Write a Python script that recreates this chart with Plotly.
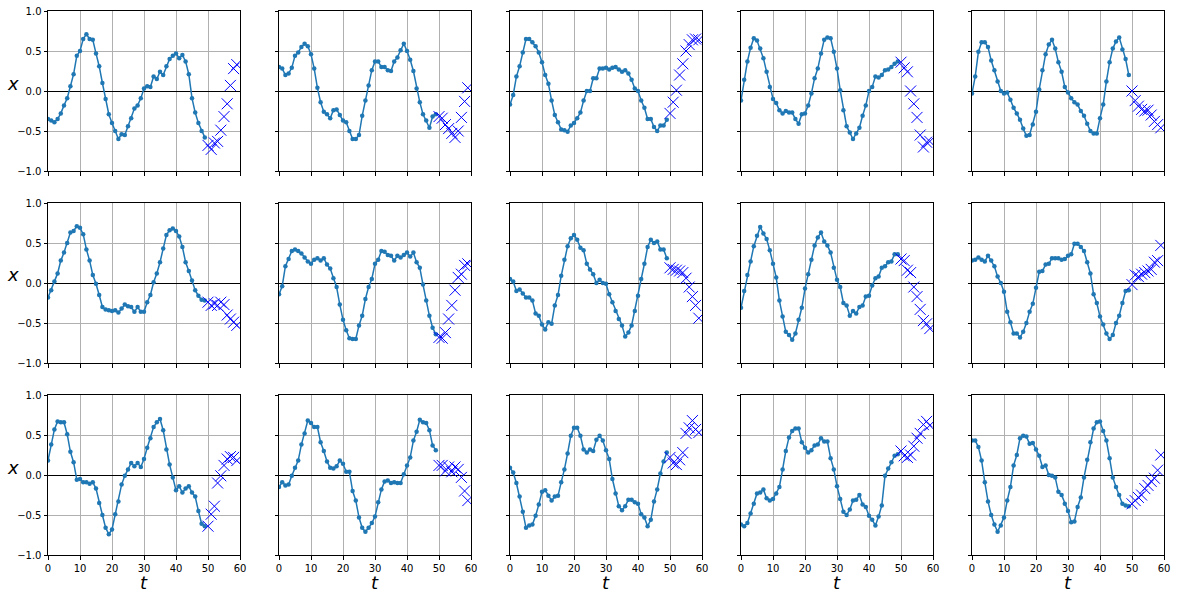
import plotly.graph_objects as go
from plotly.subplots import make_subplots

# time steps
t_obs = list(range(50))
t_pred = list(range(50, 60))

obs_1 = [-0.35,-0.37,-0.39,-0.35,-0.28,-0.18,-0.09,0.06,0.21,0.44,0.50,0.65,0.71,0.65,0.64,0.47,0.31,0.10,-0.10,-0.29,
         -0.40,-0.50,-0.60,-0.54,-0.55,-0.44,-0.34,-0.22,-0.18,-0.09,0.03,0.06,0.05,0.18,0.15,0.24,0.20,0.31,0.40,0.44,
         0.47,0.41,0.45,0.37,0.21,-0.09,-0.27,-0.40,-0.50,-0.58]
pred_1 = [-0.68,-0.73,-0.65,-0.63,-0.49,-0.32,-0.16,0.07,0.28,0.33]

obs_2 = [0.30,0.28,0.20,0.22,0.29,0.44,0.48,0.55,0.59,0.56,0.46,0.28,0.04,-0.14,-0.26,-0.29,-0.34,-0.24,-0.23,-0.30,
         -0.37,-0.39,-0.50,-0.60,-0.60,-0.55,-0.31,-0.12,0.07,0.26,0.37,0.37,0.30,0.30,0.26,0.25,0.37,0.42,0.51,0.59,
         0.50,0.39,0.25,0.03,-0.14,-0.29,-0.37,-0.46,-0.32,-0.29]
pred_2 = [-0.32,-0.34,-0.42,-0.47,-0.53,-0.58,-0.50,-0.33,-0.13,0.04]

obs_3 = [-0.17,-0.05,0.18,0.31,0.48,0.65,0.65,0.61,0.56,0.48,0.36,0.20,0.09,-0.12,-0.30,-0.39,-0.48,-0.49,-0.51,-0.43,
         -0.40,-0.34,-0.27,-0.12,0.00,0.00,0.16,0.16,0.28,0.28,0.29,0.27,0.29,0.30,0.27,0.24,0.26,0.22,0.14,0.03,
         0.00,-0.12,-0.21,-0.35,-0.35,-0.45,-0.50,-0.43,-0.43,-0.36]
pred_3 = [-0.28,-0.14,0.01,0.20,0.34,0.50,0.58,0.64,0.65,0.64]

obs_4 = [-0.12,0.14,0.37,0.54,0.66,0.63,0.53,0.41,0.24,0.05,-0.10,-0.15,-0.24,-0.28,-0.25,-0.27,-0.27,-0.35,-0.41,-0.29,
         -0.28,-0.18,-0.03,0.16,0.28,0.47,0.64,0.67,0.66,0.49,0.28,0.01,-0.24,-0.44,-0.52,-0.60,-0.53,-0.46,-0.31,-0.18,
         0.00,0.05,0.18,0.17,0.20,0.26,0.27,0.30,0.34,0.37]
pred_4 = [0.36,0.29,0.24,0.00,-0.16,-0.33,-0.55,-0.70,-0.64,-0.63]

obs_5 = [-0.03,0.18,0.49,0.61,0.61,0.55,0.38,0.26,0.12,0.00,-0.03,-0.02,-0.11,-0.21,-0.28,-0.36,-0.47,-0.56,-0.55,-0.42,
         -0.26,0.02,0.26,0.46,0.58,0.64,0.53,0.36,0.24,0.05,-0.02,-0.09,-0.14,-0.17,-0.25,-0.31,-0.41,-0.50,-0.53,-0.53,
         -0.34,-0.17,0.12,0.36,0.53,0.62,0.67,0.52,0.40,0.20]
pred_5 = [0.00,-0.12,-0.19,-0.23,-0.25,-0.24,-0.30,-0.38,-0.42,-0.46]

obs_6 = [-0.18,-0.09,0.02,0.12,0.28,0.38,0.50,0.63,0.65,0.71,0.69,0.61,0.42,0.28,0.10,-0.01,-0.15,-0.30,-0.33,-0.34,
         -0.35,-0.34,-0.37,-0.32,-0.27,-0.29,-0.30,-0.36,-0.30,-0.36,-0.36,-0.24,-0.15,0.01,0.12,0.26,0.43,0.60,0.66,0.68,
         0.65,0.58,0.45,0.26,0.15,0.03,-0.09,-0.16,-0.21,-0.22]
pred_6 = [-0.24,-0.28,-0.26,-0.28,-0.24,-0.27,-0.40,-0.45,-0.49,-0.53]

obs_7 = [-0.14,-0.04,0.21,0.30,0.40,0.42,0.40,0.37,0.32,0.27,0.24,0.29,0.31,0.28,0.31,0.23,0.18,0.06,-0.05,-0.27,
         -0.46,-0.59,-0.69,-0.70,-0.70,-0.53,-0.41,-0.20,-0.05,0.05,0.24,0.29,0.40,0.39,0.35,0.34,0.28,0.34,0.32,0.35,
         0.38,0.33,0.38,0.26,0.19,-0.02,-0.22,-0.41,-0.56,-0.64]
pred_7 = [-0.68,-0.69,-0.62,-0.45,-0.28,-0.09,0.07,0.11,0.22,0.24]

obs_8 = [0.05,0.02,-0.10,-0.08,-0.13,-0.18,-0.18,-0.22,-0.38,-0.41,-0.52,-0.58,-0.49,-0.51,-0.28,-0.15,0.09,0.29,0.46,0.56,
         0.60,0.54,0.44,0.41,0.24,0.17,0.11,0.00,0.04,0.00,-0.01,-0.14,-0.24,-0.35,-0.45,-0.53,-0.67,-0.62,-0.53,-0.35,
         -0.16,0.05,0.24,0.45,0.54,0.50,0.52,0.42,0.42,0.31]
pred_8 = [0.19,0.17,0.16,0.15,0.13,0.06,-0.05,-0.17,-0.28,-0.44]

obs_9 = [-0.31,-0.10,0.10,0.27,0.46,0.59,0.70,0.62,0.55,0.41,0.24,0.07,-0.22,-0.42,-0.61,-0.65,-0.71,-0.63,-0.46,-0.31,
         -0.07,0.11,0.29,0.47,0.57,0.63,0.52,0.47,0.38,0.19,0.04,-0.05,-0.25,-0.28,-0.41,-0.35,-0.38,-0.30,-0.28,-0.17,
         -0.16,-0.03,0.06,0.08,0.19,0.21,0.26,0.27,0.36,0.36]
pred_9 = [0.30,0.28,0.16,0.13,-0.05,-0.17,-0.33,-0.47,-0.51,-0.57]

obs_10 = [0.28,0.29,0.32,0.29,0.27,0.34,0.28,0.21,0.08,0.00,-0.11,-0.36,-0.49,-0.63,-0.63,-0.68,-0.61,-0.50,-0.36,-0.26,
          -0.06,0.14,0.15,0.23,0.24,0.31,0.31,0.31,0.29,0.30,0.34,0.36,0.49,0.49,0.45,0.40,0.26,0.12,-0.14,-0.25,
          -0.42,-0.52,-0.63,-0.70,-0.65,-0.50,-0.41,-0.25,-0.10,-0.09]
pred_10 = [-0.02,0.10,0.08,0.11,0.13,0.15,0.17,0.26,0.28,0.47]

obs_11 = [0.18,0.38,0.57,0.67,0.66,0.66,0.51,0.29,0.16,-0.06,-0.05,-0.09,-0.09,-0.11,-0.09,-0.17,-0.35,-0.50,-0.66,-0.74,
          -0.68,-0.49,-0.33,-0.12,-0.01,0.07,0.15,0.11,0.15,0.10,0.20,0.34,0.46,0.60,0.66,0.70,0.56,0.32,0.13,-0.03,
          -0.19,-0.14,-0.22,-0.17,-0.14,-0.22,-0.27,-0.45,-0.61,-0.64]
pred_11 = [-0.64,-0.49,-0.39,-0.10,-0.01,0.12,0.20,0.23,0.22,0.18]

obs_12 = [-0.15,-0.09,-0.13,-0.12,-0.01,0.09,0.18,0.38,0.52,0.68,0.65,0.60,0.60,0.41,0.30,0.17,0.09,0.08,0.11,0.18,
          0.14,0.04,0.04,-0.20,-0.32,-0.53,-0.66,-0.71,-0.66,-0.60,-0.52,-0.34,-0.18,-0.08,-0.07,-0.10,-0.09,-0.10,-0.10,0.01,
          0.12,0.22,0.43,0.54,0.69,0.66,0.65,0.56,0.37,0.31]
pred_12 = [0.12,0.12,0.05,0.10,0.04,0.10,0.07,-0.03,-0.20,-0.32]

obs_13 = [0.09,0.03,-0.10,-0.27,-0.46,-0.66,-0.63,-0.62,-0.51,-0.37,-0.21,-0.19,-0.26,-0.32,-0.27,-0.26,-0.09,0.07,0.27,0.49,
          0.59,0.59,0.49,0.32,0.28,0.32,0.30,0.44,0.49,0.43,0.31,0.20,-0.05,-0.23,-0.39,-0.44,-0.39,-0.31,-0.31,-0.34,
          -0.36,-0.49,-0.53,-0.64,-0.56,-0.33,-0.18,0.02,0.17,0.28]
pred_13 = [0.22,0.15,0.13,0.19,0.28,0.52,0.59,0.68,0.57,0.53]

obs_14 = [-0.62,-0.64,-0.60,-0.48,-0.36,-0.23,-0.22,-0.18,-0.29,-0.32,-0.30,-0.23,-0.15,0.07,0.30,0.47,0.55,0.58,0.58,0.41,
          0.34,0.28,0.31,0.37,0.38,0.46,0.42,0.42,0.21,0.07,-0.14,-0.30,-0.46,-0.50,-0.43,-0.32,-0.31,-0.25,-0.37,-0.40,
          -0.51,-0.56,-0.63,-0.52,-0.38,-0.01,0.08,0.16,0.24,0.26]
pred_14 = [0.30,0.24,0.22,0.25,0.36,0.46,0.52,0.63,0.67,0.62]

obs_15 = [0.43,0.43,0.35,0.18,-0.09,-0.33,-0.50,-0.62,-0.71,-0.63,-0.53,-0.32,-0.15,0.12,0.25,0.46,0.49,0.48,0.39,0.40,
          0.32,0.24,0.10,0.12,0.00,-0.01,-0.03,-0.21,-0.25,-0.36,-0.45,-0.59,-0.58,-0.40,-0.28,-0.03,0.19,0.41,0.58,0.66,
          0.67,0.55,0.43,0.21,-0.03,-0.15,-0.25,-0.36,-0.38,-0.39]
pred_15 = [-0.36,-0.32,-0.28,-0.25,-0.17,-0.13,-0.08,-0.04,0.06,0.25]

observed = [obs_1, obs_2, obs_3, obs_4, obs_5, obs_6, obs_7, obs_8, obs_9, obs_10,
            obs_11, obs_12, obs_13, obs_14, obs_15]
predicted = [pred_1, pred_2, pred_3, pred_4, pred_5, pred_6, pred_7, pred_8, pred_9, pred_10,
             pred_11, pred_12, pred_13, pred_14, pred_15]

y_ticks = [-1.0, -0.5, 0.0, 0.5, 1.0]
y_tick_text = ["\u22121.0", "\u22120.5", "0.0", "0.5", "1.0"]
x_ticks = [0, 10, 20, 30, 40, 50, 60]
x_tick_text = ["0", "10", "20", "30", "40", "50", "60"]

W, H = 1178, 599
col_px = [(48, 240), (279, 471), (510, 702), (741, 933), (972, 1164)]
row_px = [(11, 171), (203, 363), (395, 555)]

fig = make_subplots(rows=3, cols=5)
FONT = "DejaVu Sans"
LINE_BLUE = "#1f77b4"

for i in range(15):
    r, c = divmod(i, 5)
    fig.add_trace(go.Scatter(x=t_obs, y=observed[i], mode="lines+markers",
                             line=dict(color=LINE_BLUE, width=1.5),
                             marker=dict(color=LINE_BLUE, size=4.5),
                             showlegend=False, hoverinfo="skip"), row=r + 1, col=c + 1)
    fig.add_trace(go.Scatter(x=t_pred, y=predicted[i], mode="markers",
                             marker=dict(symbol="x-thin", size=11, color="blue",
                                         line=dict(width=1, color="blue")),
                             showlegend=False, hoverinfo="skip"), row=r + 1, col=c + 1)

for i in range(15):
    r, c = divmod(i, 5)
    idx = "" if i == 0 else str(i + 1)
    x0, x1 = col_px[c]
    y0, y1 = row_px[r]
    fig.layout["xaxis" + idx].update(
        domain=[x0 / W, x1 / W], range=[0, 60], automargin=False,
        tickvals=x_ticks, ticktext=x_tick_text, showticklabels=(r == 2),
        ticks="outside", ticklen=3.5, tickwidth=1, tickcolor="black",
        showline=True, linecolor="black", linewidth=1, mirror=True,
        showgrid=True, gridcolor="#b0b0b0", gridwidth=0.8, zeroline=False,
        tickfont=dict(family=FONT, size=10, color="black"))
    fig.layout["yaxis" + idx].update(
        domain=[1 - y1 / H, 1 - y0 / H], range=[-1, 1], automargin=False,
        tickvals=y_ticks, ticktext=y_tick_text, showticklabels=(c == 0),
        ticks="outside", ticklen=3.5, tickwidth=1, tickcolor="black",
        showline=True, linecolor="black", linewidth=1, mirror=True,
        showgrid=True, gridcolor="#b0b0b0", gridwidth=0.8,
        zeroline=True, zerolinecolor="black", zerolinewidth=1,
        tickfont=dict(family=FONT, size=10, color="black"))

annotations = []
for r in range(3):
    annotations.append(dict(text="<i>x</i>", x=13 / W, y=1 - (row_px[r][0] + 72) / H,
                            xref="paper", yref="paper",
                            showarrow=False, xanchor="center", yanchor="middle",
                            font=dict(family=FONT, size=18, color="black")))
for c in range(5):
    x0, x1 = col_px[c]
    annotations.append(dict(text="<i>t</i>", x=(x0 + x1) / 2 / W, y=1 - 582 / H,
                            xref="paper", yref="paper",
                            showarrow=False, xanchor="center", yanchor="middle",
                            font=dict(family=FONT, size=18, color="black")))

fig.update_layout(width=W, height=H, margin=dict(l=0, r=0, t=0, b=0),
                  plot_bgcolor="white", paper_bgcolor="white",
                  annotations=annotations, showlegend=False)

# remove the browser's default 8 px body margin so the figure fills the window exactly
fig.write_html("out.html", config={"displayModeBar": False},
               post_script="document.body.style.margin='0px';document.body.style.overflow='hidden';")
